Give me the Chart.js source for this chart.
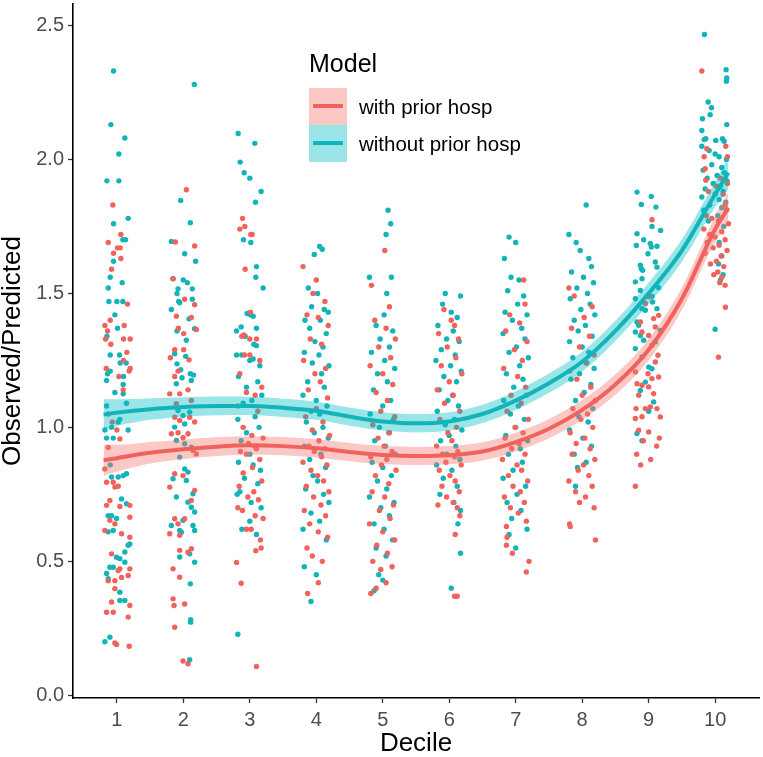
<!DOCTYPE html>
<html>
<head>
<meta charset="utf-8">
<script src="https://cdn.jsdelivr.net/npm/chart.js@4.4.1/dist/chart.umd.min.js"></script>
<style>
  body { margin: 0; background: #fff; }
  #wrap { position: relative; width: 763px; height: 757px; font-family: "Liberation Sans", Arial, sans-serif; }
  #legend .title { position: absolute; left: 309px; top: 49px; font-size: 25px; line-height: 28px; color: #000; }
  #legend .key { position: absolute; left: 309px; width: 38px; height: 37px; }
  #legend .key span { position: absolute; left: 4px; top: 16px; width: 30px; height: 4px; }
  #legend .label { position: absolute; left: 359px; font-size: 20.5px; line-height: 22px; color: #000; white-space: nowrap; }
</style>
</head>
<body>
<div id="wrap">
  <canvas id="oeChart" width="763" height="757"></canvas>
  <div id="legend">
    <div class="title">Model</div>
    <div class="key" style="top:88px;background:rgba(248,118,109,0.4)"><span style="background:#F0625C"></span></div>
    <div class="label" style="top:96px">with prior hosp</div>
    <div class="key" style="top:125px;background:rgba(0,191,196,0.4)"><span style="background:#13B4B9"></span></div>
    <div class="label" style="top:133px">without prior hosp</div>
  </div>
</div>
<script>
const deciles = [1, 2, 3, 4, 5, 6, 7, 8, 9, 10];
const yTickValues = [0, 0.5, 1, 1.5, 2, 2.5];

// [jitter, observed/predicted] per decile
const withPriorPoints = [
  [[-0.06,1.83],[0.06,1.72],[-0.13,1.69],[0.01,1.67],[0.05,1.67],[-0.05,1.65],[0.06,1.63],[-0.08,1.59],[0.16,1.46],[-0.1,1.40],[-0.18,1.38],[-0.14,1.36],[0.11,1.38],[-0.17,1.33],[-0.09,1.31],[0.1,1.33],[0.2,1.33],[0.15,1.28],[0.1,1.25],[-0.16,1.22],[0.03,1.19],[0.2,1.22],[0.185,1.21],[0.095,1.14],[-0.13,1.05],[-0.07,1.02],[0.0,0.99],[0.045,0.957],[-0.13,0.925],[-0.18,0.845],[-0.155,0.795],[-0.055,0.795],[-0.03,0.777],[0.02,0.78],[-0.105,0.727],[-0.155,0.709],[0.045,0.705],[0.195,0.709],[0.195,0.665],[-0.105,0.653],[-0.03,0.64],[-0.18,0.615],[0.07,0.603],[0.195,0.59],[-0.08,0.528],[0.045,0.472],[0.02,0.466],[0.195,0.472],[-0.13,0.428],[-0.03,0.428],[0.07,0.44],[0.17,0.447],[-0.03,0.398],[-0.08,0.348],[0.195,0.335],[-0.155,0.31],[-0.055,0.31],[0.17,0.292],[-0.03,0.195],[-0.005,0.19],[0.185,0.183]],
  [[0.045,1.887],[-0.12,1.692],[0.17,1.677],[-0.155,1.555],[0.02,1.478],[0.17,1.458],[-0.105,1.415],[0.12,1.41],[-0.075,1.37],[0.005,1.35],[0.195,1.365],[-0.13,1.29],[0.005,1.29],[-0.195,1.26],[0.085,1.252],[-0.13,1.19],[-0.08,1.21],[-0.205,1.125],[-0.055,1.125],[0.07,1.14],[0.12,1.10],[-0.105,1.088],[-0.13,1.038],[-0.055,1.026],[0.095,1.038],[0.17,1.02],[-0.18,0.976],[-0.08,0.98],[-0.005,0.961],[0.07,0.976],[0.145,0.914],[0.195,0.901],[-0.205,0.777],[-0.13,0.827],[-0.005,0.82],[0.17,0.765],[0.12,0.727],[-0.13,0.659],[-0.08,0.64],[0.02,0.659],[-0.205,0.603],[-0.055,0.597],[-0.055,0.541],[0.12,0.547],[0.07,0.534],[-0.155,0.472],[-0.055,0.441],[-0.155,0.36],[-0.14,0.335],[0.02,0.341],[-0.13,0.254],[-0.005,0.128],[0.07,0.118]],
  [[-0.11,1.78],[-0.15,1.74],[-0.075,1.75],[0.015,1.72],[0.035,1.72],[-0.07,1.59],[0.01,1.43],[-0.12,1.34],[-0.09,1.345],[0.0,1.33],[0.1,1.33],[-0.15,1.2],[-0.08,1.27],[0.0,1.27],[0.15,1.25],[0.18,1.15],[-0.05,1.13],[0.08,1.12],[-0.18,1.08],[0.12,1.06],[-0.1,1.0],[0.03,0.97],[0.2,0.96],[-0.02,0.94],[0.07,0.93],[0.1,0.92],[-0.14,0.91],[-0.05,0.9],[0.15,0.88],[0.04,0.85],[-0.1,0.83],[0.18,0.8],[-0.16,0.78],[0.06,0.76],[-0.03,0.74],[0.13,0.73],[-0.18,0.7],[-0.11,0.69],[0.08,0.67],[0.2,0.66],[-0.05,0.62],[0.02,0.62],[0.16,0.58],[0.09,0.54],[0.17,0.55],[-0.2,0.496],[-0.13,0.418],[0.1,0.108]],
  [[-0.2,1.6],[0.0,1.55],[-0.05,1.5],[0.13,1.47],[-0.14,1.42],[0.03,1.41],[0.18,1.38],[-0.09,1.33],[0.08,1.31],[-0.19,1.25],[0.14,1.22],[-0.02,1.2],[0.06,1.17],[-0.12,1.14],[0.17,1.11],[0.0,1.07],[-0.16,1.04],[0.1,1.02],[-0.06,0.99],[0.2,0.97],[0.04,0.95],[-0.11,0.93],[0.13,0.92],[-0.03,0.91],[0.08,0.89],[-0.2,0.87],[0.16,0.86],[-0.08,0.84],[0.02,0.82],[0.11,0.8],[-0.15,0.78],[0.19,0.76],[-0.04,0.74],[0.07,0.71],[-0.18,0.69],[0.14,0.67],[-0.1,0.64],[0.03,0.61],[0.17,0.59],[-0.14,0.55],[-0.06,0.52],[0.09,0.5],[-0.13,0.38],[0.03,0.42]],
  [[0.03,1.66],[-0.17,1.53],[0.1,1.45],[-0.12,1.4],[0.05,1.37],[0.19,1.33],[-0.06,1.3],[0.12,1.26],[-0.19,1.23],[0.0,1.2],[0.15,1.16],[-0.1,1.13],[0.07,1.1],[-0.03,1.06],[0.18,1.04],[-0.15,1.01],[0.1,0.98],[-0.07,0.96],[0.02,0.93],[0.14,0.91],[-0.18,0.89],[0.06,0.88],[-0.02,0.86],[0.2,0.84],[-0.11,0.82],[0.09,0.79],[-0.16,0.76],[0.03,0.74],[0.16,0.71],[-0.05,0.69],[0.11,0.66],[-0.2,0.64],[0.0,0.61],[0.18,0.58],[-0.09,0.56],[0.07,0.53],[-0.15,0.5],[0.14,0.48],[-0.03,0.47],[-0.18,0.38],[-0.1,0.4],[0.05,0.42]],
  [[-0.08,1.44],[0.03,1.4],[0.08,1.38],[-0.16,1.35],[0.14,1.33],[-0.03,1.3],[0.1,1.26],[-0.12,1.23],[0.19,1.2],[0.0,1.17],[-0.18,1.14],[0.06,1.12],[-0.07,1.09],[0.16,1.06],[-0.14,1.03],[0.11,1.0],[-0.02,0.98],[0.04,0.95],[-0.19,0.93],[0.13,0.91],[-0.1,0.9],[0.08,0.89],[-0.05,0.87],[0.18,0.86],[-0.15,0.84],[0.01,0.82],[0.09,0.8],[-0.11,0.78],[0.15,0.76],[-0.04,0.74],[0.06,0.72],[-0.17,0.71],[0.16,0.67],[0.09,0.6],[0.12,0.7],[0.08,0.37],[0.12,0.37]],
  [[0.12,1.55],[0.14,1.46],[-0.09,1.42],[0.06,1.39],[-0.15,1.36],[0.17,1.32],[-0.02,1.29],[0.1,1.25],[-0.18,1.22],[0.03,1.19],[0.15,1.15],[-0.07,1.12],[0.08,1.09],[-0.13,1.06],[0.19,1.03],[-0.01,1.0],[0.11,0.98],[-0.16,0.96],[0.05,0.94],[-0.06,0.92],[0.14,0.9],[-0.2,0.88],[0.02,0.86],[0.09,0.84],[-0.11,0.82],[0.18,0.8],[-0.04,0.78],[0.07,0.76],[-0.17,0.74],[0.13,0.72],[-0.08,0.7],[0.04,0.68],[0.16,0.65],[-0.14,0.63],[-0.13,0.59],[-0.05,0.53],[-0.14,0.56],[0.2,0.5],[0.16,0.46]],
  [[-0.2,1.52],[-0.12,1.49],[0.15,1.45],[0.03,1.41],[-0.16,1.37],[0.11,1.34],[-0.04,1.3],[0.18,1.27],[0.06,1.24],[-0.19,1.21],[-0.08,1.18],[0.13,1.15],[0.0,1.12],[0.2,1.1],[-0.14,1.07],[0.08,1.05],[-0.02,1.03],[0.16,1.0],[-0.18,0.98],[0.04,0.96],[-0.09,0.94],[0.12,0.92],[-0.15,0.9],[0.19,0.88],[0.02,0.86],[-0.06,0.84],[0.1,0.82],[-0.2,0.8],[0.15,0.78],[-0.1,0.76],[0.05,0.74],[-0.04,0.72],[0.18,0.7],[-0.19,0.64],[-0.18,0.63],[0.2,0.58]],
  [[0.05,1.775],[0.0,1.487],[-0.05,1.462],[0.15,1.418],[0.075,1.406],[0.1,1.375],[-0.125,1.393],[-0.1,1.356],[0.0,1.343],[0.05,1.306],[0.14,1.269],[0.1,1.244],[-0.2,1.207],[-0.01,1.2],[0.05,1.182],[0.15,1.188],[-0.175,1.163],[-0.1,1.157],[0.0,1.151],[-0.15,1.12],[0.075,1.126],[-0.19,1.07],[-0.05,1.07],[0.025,1.076],[0.125,1.07],[-0.2,1.033],[-0.1,1.04],[0.175,1.039],[-0.15,0.989],[0.0,0.983],[-0.08,0.95],[0.12,0.93],[-0.18,0.9],[0.03,0.88],[-0.12,0.86],[0.16,0.96],[-0.2,0.78]],
  [[-0.2,2.33],[-0.125,2.04],[-0.165,2.01],[-0.15,1.965],[-0.14,1.922],[0.16,2.049],[0.185,2.01],[0.185,1.91],[0.15,1.83],[0.17,1.81],[-0.13,1.79],[-0.05,1.78],[0.05,1.77],[0.2,1.76],[-0.17,1.74],[0.1,1.73],[-0.08,1.72],[0.0,1.71],[0.15,1.7],[-0.12,1.69],[0.06,1.68],[-0.03,1.67],[0.18,1.66],[-0.15,1.65],[0.09,1.64],[0.02,1.62],[-0.07,1.61],[0.13,1.6],[0.04,1.58],[-0.02,1.57],[0.1,1.56],[0.07,1.54],[0.15,1.53],[0.155,1.448],[0.05,1.262],[0.12,1.87],[-0.1,1.88],[0.02,1.9],[0.08,1.93]]
];

const withoutPriorPoints = [
  [[-0.05,2.33],[-0.09,2.13],[0.12,2.08],[0.03,2.02],[-0.15,1.92],[0.03,1.92],[0.17,1.78],[-0.05,1.76],[0.09,1.70],[0.13,1.70],[-0.05,1.62],[-0.1,1.56],[0.08,1.54],[-0.13,1.52],[-0.12,1.47],[0,1.47],[0.09,1.47],[-0.03,1.42],[0.01,1.37],[-0.15,1.34],[-0.1,1.27],[0.04,1.27],[0.05,1.24],[0.14,1.24],[-0.1,1.21],[-0.14,1.20],[0.1,1.19],[-0.155,1.175],[0.095,1.16],[0.095,1.125],[-0.03,1.13],[-0.155,1.08],[0.145,1.09],[0.045,1.03],[0.02,1.02],[-0.08,1.0],[0.17,0.99],[-0.18,0.99],[-0.155,0.96],[-0.055,0.96],[-0.1,0.86],[-0.08,0.815],[0.02,0.815],[0.095,0.82],[0.145,0.827],[0.07,0.733],[0.145,0.715],[-0.13,0.67],[-0.08,0.67],[-0.005,0.66],[-0.13,0.61],[-0.055,0.615],[0.17,0.56],[0.195,0.565],[0.12,0.535],[-0.005,0.515],[0.045,0.51],[0.12,0.497],[-0.105,0.478],[-0.055,0.478],[-0.155,0.455],[-0.13,0.435],[0.045,0.385],[0.045,0.354],[0.12,0.354],[-0.18,0.2],[-0.105,0.217]],
  [[0.165,2.28],[-0.04,1.847],[0.105,1.764],[-0.18,1.694],[0.02,1.648],[0.185,1.62],[-0.155,1.555],[0.0,1.55],[0.06,1.54],[-0.08,1.517],[0.135,1.517],[-0.095,1.50],[-0.07,1.47],[-0.055,1.465],[0.135,1.478],[-0.18,1.44],[0.085,1.405],[0.17,1.368],[-0.095,1.36],[0.045,1.325],[-0.13,1.275],[0.035,1.265],[-0.095,1.237],[-0.04,1.215],[0.105,1.20],[0.155,1.195],[-0.02,1.185],[-0.105,1.163],[0.12,1.175],[-0.08,1.063],[-0.13,1.001],[-0.005,1.044],[0.02,1.013],[0.095,1.057],[-0.105,0.951],[0.02,0.939],[-0.055,0.889],[0.12,0.926],[-0.155,0.808],[0.02,0.845],[0.07,0.833],[-0.105,0.74],[0.045,0.802],[0.145,0.752],[0.07,0.721],[0.12,0.702],[0.17,0.684],[-0.005,0.653],[-0.18,0.634],[-0.055,0.615],[-0.03,0.609],[0.145,0.634],[0.17,0.615],[0.095,0.528],[-0.055,0.516],[0.17,0.497],[0.105,0.416],[0.11,0.282],[0.11,0.273],[0.095,0.133]],
  [[-0.175,2.097],[0.075,2.06],[-0.145,1.99],[-0.085,1.95],[0.0,1.93],[0.17,1.88],[0.085,1.84],[-0.095,1.70],[0.015,1.69],[0.1,1.60],[0.09,1.56],[0.2,1.52],[-0.04,1.425],[0.01,1.42],[0.05,1.415],[0.1,1.37],[-0.2,1.36],[-0.13,1.375],[-0.07,1.34],[0.06,1.31],[0.1,1.305],[-0.2,1.27],[-0.12,1.27],[0.0,1.25],[0.05,1.255],[0.15,1.23],[-0.17,1.19],[0.12,1.17],[-0.05,1.15],[0.18,1.12],[-0.1,1.09],[0.03,1.1],[-0.18,1.03],[0.08,1.04],[0.14,1.0],[-0.05,0.98],[-0.13,0.95],[0.1,0.93],[0.0,0.9],[-0.17,0.87],[0.05,0.86],[0.16,0.84],[-0.08,0.81],[0.12,0.79],[-0.15,0.76],[-0.19,0.75],[0.02,0.72],[0.17,0.7],[0.0,0.65],[-0.12,0.62],[0.1,0.6],[-0.18,0.228]],
  [[0.05,1.675],[0.09,1.665],[-0.03,1.645],[-0.12,1.52],[0.02,1.5],[-0.07,1.45],[0.12,1.44],[0.18,1.43],[-0.17,1.4],[0.06,1.4],[-0.1,1.37],[0.15,1.35],[-0.02,1.32],[0.1,1.3],[-0.18,1.28],[0.04,1.27],[-0.06,1.24],[0.19,1.23],[0.08,1.2],[-0.13,1.17],[0.12,1.15],[-0.2,1.12],[0.0,1.1],[0.16,1.08],[-0.08,1.06],[0.05,1.05],[-0.15,1.02],[0.1,1.0],[-0.03,0.98],[0.18,0.96],[-0.18,0.93],[0.07,0.9],[-0.1,0.88],[0.14,0.85],[-0.05,0.82],[0.02,0.8],[-0.16,0.77],[0.11,0.75],[0.19,0.72],[-0.08,0.68],[0.05,0.65],[-0.2,0.62],[0.15,0.58],[-0.18,0.48],[0.0,0.45],[-0.08,0.35]],
  [[0.08,1.81],[0.12,1.76],[0.05,1.72],[-0.2,1.56],[0.13,1.56],[0.06,1.5],[0.02,1.42],[-0.1,1.38],[0.15,1.36],[-0.04,1.33],[0.1,1.3],[-0.17,1.28],[0.03,1.25],[0.18,1.22],[-0.08,1.2],[0.07,1.17],[-0.14,1.14],[0.12,1.1],[0.0,1.08],[-0.19,1.05],[0.16,1.03],[-0.05,1.0],[0.09,0.98],[-0.12,0.95],[0.04,0.93],[0.19,0.9],[-0.16,0.87],[0.0,0.85],[0.13,0.82],[-0.08,0.8],[0.06,0.77],[-0.2,0.74],[0.17,0.72],[-0.03,0.7],[0.1,0.67],[-0.13,0.64],[0.02,0.62],[0.15,0.58],[-0.1,0.55],[0.05,0.52],[-0.06,0.45],[-0.13,0.39],[0.0,0.43]],
  [[-0.06,1.5],[0.17,1.49],[-0.1,1.46],[0.03,1.43],[0.12,1.41],[-0.17,1.38],[0.06,1.36],[-0.04,1.33],[0.15,1.32],[-0.12,1.29],[0.09,1.27],[-0.2,1.25],[0.02,1.23],[0.18,1.21],[-0.08,1.19],[0.11,1.17],[-0.15,1.14],[0.05,1.12],[-0.02,1.1],[0.14,1.08],[-0.18,1.06],[0.08,1.03],[-0.06,1.01],[0.19,0.99],[0.0,0.97],[-0.13,0.95],[0.1,0.93],[-0.04,0.9],[0.16,0.88],[-0.19,0.86],[0.04,0.84],[-0.09,0.81],[0.12,0.78],[-0.14,0.75],[0.07,0.72],[0.17,0.69],[0.13,0.64],[0.17,0.53],[0.03,0.4]],
  [[-0.1,1.71],[0.0,1.69],[-0.17,1.63],[-0.07,1.56],[0.05,1.55],[-0.12,1.51],[0.12,1.49],[0.03,1.46],[-0.16,1.43],[0.17,1.42],[-0.05,1.4],[0.09,1.37],[-0.19,1.35],[0.14,1.33],[0.01,1.3],[-0.1,1.28],[0.19,1.26],[0.06,1.23],[-0.14,1.2],[0.11,1.18],[-0.03,1.15],[0.16,1.12],[-0.18,1.1],[0.04,1.08],[-0.08,1.05],[0.13,1.03],[0.0,1.0],[-0.15,0.97],[0.18,0.95],[0.07,0.92],[-0.11,0.9],[0.1,0.87],[-0.04,0.84],[-0.19,0.81],[0.15,0.78],[0.02,0.75],[-0.13,0.72],[0.08,0.69],[-0.06,0.66],[0.17,0.62],[0.0,0.55],[-0.1,0.6]],
  [[0.06,1.83],[-0.2,1.72],[-0.09,1.69],[-0.03,1.66],[0.1,1.63],[0.14,1.6],[-0.16,1.58],[0.02,1.56],[0.17,1.54],[-0.08,1.52],[0.08,1.5],[-0.18,1.48],[0.12,1.46],[-0.02,1.44],[0.19,1.42],[-0.12,1.4],[0.05,1.38],[-0.06,1.36],[0.15,1.34],[-0.19,1.32],[0.0,1.3],[0.1,1.28],[-0.14,1.26],[0.07,1.24],[0.18,1.22],[-0.04,1.2],[-0.17,1.18],[0.13,1.16],[0.03,1.13],[-0.1,1.1],[0.16,1.07],[-0.05,1.04],[0.09,1.02],[-0.19,0.99],[0.01,0.96],[0.14,0.93],[-0.12,0.9],[0.06,0.87],[-0.07,0.85],[-0.1,0.78]],
  [[-0.175,1.878],[0.04,1.862],[-0.11,1.832],[0.11,1.822],[0.05,1.75],[0.18,1.735],[-0.175,1.723],[-0.075,1.7],[0.025,1.686],[0.04,1.673],[0.125,1.676],[-0.185,1.679],[-0.01,1.648],[-0.125,1.605],[-0.11,1.592],[0.1,1.617],[0.125,1.598],[-0.2,1.543],[-0.1,1.555],[-0.09,1.586],[0.15,1.521],[-0.125,1.511],[-0.2,1.48],[0.05,1.489],[0.06,1.468],[-0.1,1.443],[-0.05,1.437],[0.125,1.443],[-0.175,1.393],[-0.15,1.381],[-0.2,1.356],[-0.125,1.343],[-0.075,1.325],[0.175,1.362],[0.1,1.319],[-0.2,1.294],[-0.1,1.263],[0.0,1.225],[0.05,1.219],[-0.05,1.169],[-0.125,1.138],[0.075,1.095],[-0.175,0.977],[-0.1,0.95],[0.0,1.06]],
  [[-0.16,2.466],[0.165,2.335],[0.175,2.304],[0.17,2.292],[-0.105,2.214],[-0.055,2.193],[-0.075,2.167],[-0.19,2.152],[0.175,2.13],[-0.2,2.108],[-0.14,2.077],[-0.165,2.074],[-0.2,2.049],[0.01,2.071],[0.11,2.077],[0.135,2.068],[-0.09,2.033],[0.0,2.02],[0.06,2.01],[0.17,2.0],[-0.05,1.98],[0.1,1.97],[-0.18,1.96],[0.14,1.95],[0.03,1.94],[-0.12,1.93],[0.18,1.92],[-0.03,1.91],[0.08,1.9],[-0.15,1.89],[0.12,1.88],[0.0,1.87],[-0.2,1.86],[0.06,1.85],[0.16,1.84],[-0.08,1.83],[0.1,1.82],[-0.17,1.81],[0.04,1.79],[-0.1,1.77],[0.13,1.75],[0.06,1.69],[0.1,1.64],[0.05,1.61],[0.12,1.57],[0.08,1.55],[0.0,1.366]]
];

// smoothed fit with confidence band
const fitX = [0.8, 1, 1.5, 2, 2.5, 3, 3.5, 4, 4.5, 5, 5.5, 6, 6.5, 7, 7.5, 8, 8.5, 9, 9.5, 10, 10.2];
const withPriorFit  = [0.877, 0.885, 0.905, 0.918, 0.928, 0.933, 0.93, 0.922, 0.908, 0.897, 0.893, 0.896, 0.91, 0.945, 0.995, 1.065, 1.16, 1.29, 1.48, 1.74, 1.82];
const withPriorLow  = [0.819, 0.835, 0.865, 0.882, 0.893, 0.899, 0.896, 0.888, 0.874, 0.863, 0.859, 0.862, 0.876, 0.91, 0.959, 1.028, 1.122, 1.25, 1.438, 1.692, 1.76];
const withPriorHigh = [0.935, 0.935, 0.945, 0.954, 0.963, 0.967, 0.964, 0.956, 0.942, 0.931, 0.927, 0.93, 0.944, 0.98, 1.031, 1.102, 1.198, 1.33, 1.522, 1.788, 1.88];
const withoutPriorFit  = [1.048, 1.055, 1.068, 1.076, 1.08, 1.08, 1.073, 1.062, 1.04, 1.022, 1.015, 1.022, 1.05, 1.1, 1.165, 1.245, 1.36, 1.5, 1.66, 1.87, 1.95];
const withoutPriorLow  = [0.99, 1.005, 1.028, 1.04, 1.045, 1.046, 1.039, 1.028, 1.006, 0.988, 0.981, 0.988, 1.016, 1.065, 1.129, 1.208, 1.322, 1.46, 1.618, 1.822, 1.89];
const withoutPriorHigh = [1.106, 1.105, 1.108, 1.112, 1.115, 1.114, 1.107, 1.096, 1.074, 1.056, 1.049, 1.056, 1.084, 1.135, 1.201, 1.282, 1.398, 1.54, 1.702, 1.918, 2.01];

const RED = "#F0625C";
const TEAL = "#13B4B9";

const toPoints = (groups) =>
  groups.flatMap((g, i) => g.map(([j, v]) => ({ x: deciles[i] + j, y: v })));
const toLine = (ys) => fitX.map((x, i) => ({ x: x, y: ys[i] }));

const pointSet = (data, color) => ({
  type: "scatter",
  data: data,
  backgroundColor: color,
  borderWidth: 0,
  pointRadius: 2.7,
  order: 3,
});

const bandSet = (ys, fill, color) => ({
  type: "line",
  data: toLine(ys),
  borderWidth: 0,
  pointRadius: 0,
  fill: fill,
  backgroundColor: color,
  cubicInterpolationMode: "monotone",
  order: 2,
});

const fitSet = (ys, color) => ({
  type: "line",
  data: toLine(ys),
  borderColor: color,
  borderWidth: 4,
  pointRadius: 0,
  fill: false,
  cubicInterpolationMode: "monotone",
  order: 1,
});

const tickFont = { family: "'Liberation Sans', Arial, sans-serif", size: 20 };
const titleFont = { family: "'Liberation Sans', Arial, sans-serif", size: 26, lineHeight: 1 };

// keep the plot panel where the reference has it
const noEdgePadding = (s) => { s.paddingTop = 0; s.paddingBottom = 0; s.paddingLeft = 0; s.paddingRight = 0; };

new Chart(document.getElementById("oeChart"), {
  data: {
    datasets: [
      pointSet(toPoints(withPriorPoints), RED),
      pointSet(toPoints(withoutPriorPoints), TEAL),
      bandSet(withPriorHigh, "+1", "rgba(248,118,109,0.4)"),
      bandSet(withPriorLow, false, "rgba(248,118,109,0.4)"),
      bandSet(withoutPriorHigh, "+1", "rgba(0,191,196,0.4)"),
      bandSet(withoutPriorLow, false, "rgba(0,191,196,0.4)"),
      fitSet(withPriorFit, RED),
      fitSet(withoutPriorFit, TEAL),
    ],
  },
  options: {
    responsive: false,
    animation: false,
    events: [],
    layout: { padding: { top: 3, right: 4, left: 0, bottom: 0 } },
    plugins: { legend: { display: false }, tooltip: { enabled: false } },
    scales: {
      x: {
        type: "linear",
        min: 0.34,
        max: 10.66,
        afterBuildTicks: (s) => { s.ticks = deciles.map((v) => ({ value: v })); },
        afterFit: (s) => { s.height = 59; noEdgePadding(s); },
        ticks: { font: tickFont, color: "#4D4D4D", padding: 5, callback: (v) => String(v) },
        grid: { drawOnChartArea: false, tickLength: 5, tickColor: "#333", tickWidth: 1.3 },
        border: { display: true, color: "#000", width: 1.6 },
        title: { display: true, text: "Decile", font: titleFont, color: "#000", padding: { top: 0, bottom: 0 } },
      },
      y: {
        type: "linear",
        min: -0.01,
        max: 2.58,
        afterBuildTicks: (s) => { s.ticks = yTickValues.map((v) => ({ value: v })); },
        afterFit: (s) => { s.width = 73; noEdgePadding(s); },
        ticks: { font: tickFont, color: "#4D4D4D", padding: 4, callback: (v) => v.toFixed(1) },
        grid: { drawOnChartArea: false, tickLength: 5, tickColor: "#333", tickWidth: 1.3 },
        border: { display: true, color: "#000", width: 1.6 },
        title: { display: true, text: "Observed/Predicted", font: titleFont, color: "#000", padding: { top: 0, bottom: 0 } },
      },
    },
  },
});
</script>
</body>
</html>
